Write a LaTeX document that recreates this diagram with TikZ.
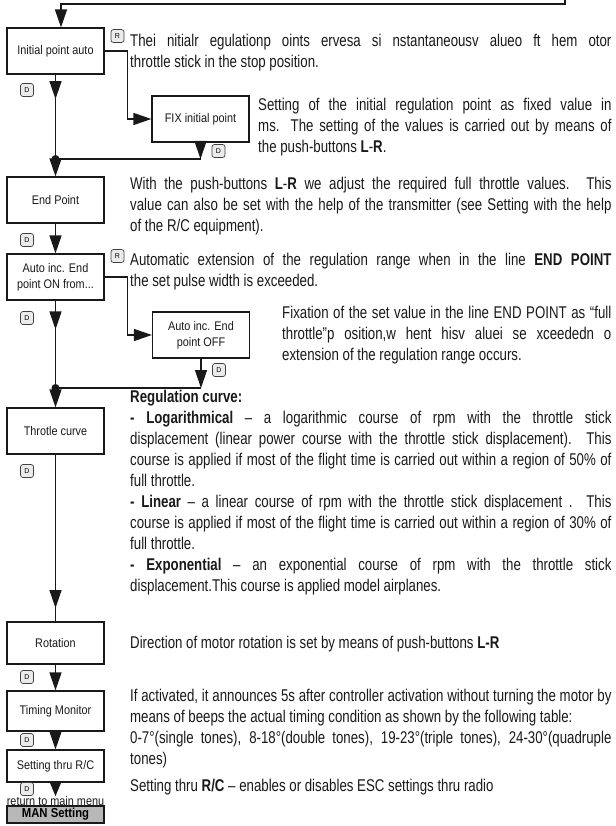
\documentclass[tikz,border=0pt]{standalone}
\usepackage{graphicx}
\usepackage{fontspec}
\setmainfont{Liberation Sans}
\usetikzlibrary{arrows.meta,decorations.markings}
\newcommand\cj[2]{\scalebox{0.78}[1]{\makebox[#1][s]{#2}}}
\newcommand\cn[1]{\scalebox{0.78}[1]{#1}}
\newcommand\cb[1]{\scalebox{0.87}[1]{#1}}
\begin{document}
\begin{tikzpicture}[x=1pt,y=-1pt,
  >={Triangle[length=18pt,width=12pt]},
  box/.style={draw=black!90, line width=1.2pt, minimum width=97pt, minimum height=46pt, align=center, inner sep=1pt, text=black!90, font=\fontsize{12.5}{16}\selectfont},
  btn/.style={draw=black!75, fill=black!8, rounded corners=2.5pt, minimum width=13pt, minimum height=13pt, inner sep=0pt, line width=0.7pt, font=\fontsize{7}{7}\selectfont},
  conn/.style={line width=1.3pt, black!90},
  midarr/.style={postaction={decorate}, decoration={markings, mark=at position #1 with {\arrow{>}}}},
  txt/.style={anchor=base west, inner sep=0pt, text=black!90, font=\fontsize{17}{21}\selectfont},
  jdot/.style={circle, fill=black!90, inner sep=0pt, minimum size=8pt},
]
\useasboundingbox (0,0) rectangle (615,826);

% boxes
\node[box] (b1) at (55.5,51) {\cb{Initial point auto}};
\node[box] (b2) at (200.5,119) {\cb{FIX initial point}};
\node[jdot] (j1) at (55.5,159) {};
\node[box] (b3) at (55.5,200) {\cb{End Point}};
\node[box] (b4) at (55.5,277) {\cb{Auto inc. End}\\\cb{point ON from...}};
\node[box] (b5) at (201,335) {\cb{Auto inc. End}\\\cb{point OFF}};
\node[jdot] (j2) at (55.5,388) {};
\node[box] (b6) at (55.5,431) {\cb{Throtle curve}};
\node[box, minimum height=42pt] (b7) at (55.5,643) {\cb{Rotation}};
\node[box, minimum height=40pt] (b8) at (55.5,711) {\cb{Timing Monitor}};
\node[box, minimum height=32pt] (b9) at (55.5,766) {\cb{Setting thru R/C}};
\node[inner sep=0pt, text=black!90, font=\fontsize{12.5}{13}\selectfont] (ret) at (55.5,801) {\cb{return to main menu}};
\node[draw=black!90, line width=1.2pt, fill=black!28, minimum width=97pt, minimum height=17pt, inner sep=0pt, font=\bfseries\fontsize{13}{13}\selectfont] (man) at (55.5,814.5) {\cb{MAN Setting}};

% buttons
\node[btn] (r1) at (117.5,36) {R};
\node[btn] (d1) at (27,90) {D};
\node[btn] (d2) at (218.5,151) {D};
\node[btn] (d3) at (27,240) {D};
\node[btn] (r2) at (117.5,256) {R};
\node[btn] (d4) at (27,318) {D};
\node[btn] (d5) at (219,370) {D};
\node[btn] (d6) at (27,471) {D};
\node[btn] (d7) at (27,677) {D};
\node[btn] (d8) at (27,740) {D};
\node[btn] (d9) at (27,789) {D};

% connectors
\coordinate (t0) at (565,0);
\coordinate (t1) at (565,4);
\coordinate (t2) at (61,4);
\draw[conn,->] (t0) -- (t1) -- (t2) -- (t2 |- b1.north);
\draw[conn,->] (b1.east) -- ++(23,0) |- (b2.west);
\draw[conn,midarr=0.29] (b1.south) -- (j1.center);
\coordinate (c1) at (b2.south |- j1.center);
\draw[conn,->] (b2.south) -- (c1);
\draw[conn] (c1) -- (j1.center);
\draw[conn,->] (j1.center) -- (b3.north);
\draw[conn,->] (b3.south) -- (b4.north);
\draw[conn,->] (b4.east) -- ++(23,0) |- (b5.west);
\draw[conn,midarr=0.33] (b4.south) -- (j2.center);
\coordinate (c2) at (b5.south |- j2.center);
\draw[conn,->] (b5.south) -- (c2);
\draw[conn] (c2) -- (j2.center);
\draw[conn,->] (j2.center) -- (b6.north);
\draw[conn,midarr=0.92] (b6.south) -- (b7.north);
\draw[conn,->] (b7.south) -- (b8.north);
\draw[conn,->] (b8.south) -- (b9.north);
\draw[conn,-{Triangle[length=15pt,width=12pt]}] (b9.south) -- (ret.north);

% text
\node[txt] (p1) at (130,46.5) {\cj{617pt}{Thei nitialr egulationp oints ervesa si nstantaneousv alueo ft hem otor}};
\node[txt] (p2) at (130,67.5) {\cn{throttle stick in the stop position.}};
\node[txt] (p3) at (258,110.5) {\cj{453pt}{Setting of the initial regulation point as fixed value in}};
\node[txt] (p4) at (258,131.5) {\cj{453pt}{ms. The setting of the values is carried out by means of}};
\node[txt] (p5) at (258,152.5) {\cn{the push-buttons \textbf{L}-\textbf{R}.}};
\node[txt] (p6) at (130,189.5) {\cj{617pt}{With the push-buttons \textbf{L}-\textbf{R} we adjust the required full throttle values. This}};
\node[txt] (p7) at (130,210.5) {\cj{617pt}{value can also be set with the help of the transmitter (see Setting with the help}};
\node[txt] (p8) at (130,231.5) {\cn{of the R/C equipment).}};
\node[txt] (p9) at (130,265.5) {\cj{617pt}{Automatic extension of the regulation range when in the line \textbf{END POINT}}};
\node[txt] (p10) at (130,286.5) {\cn{the set pulse width is exceeded.}};
\node[txt] (p11) at (282,318.5) {\cj{422pt}{Fixation of the set value in the line END POINT as “full}};
\node[txt] (p12) at (282,339.5) {\cj{422pt}{throttle”p osition,w hent hisv aluei se xceededn o}};
\node[txt] (p13) at (282,360.5) {\cn{extension of the regulation range occurs.}};
\node[txt] (p14) at (130,402) {\cn{\textbf{Regulation curve:}}};
\node[txt] (p15) at (130,423) {\cj{617pt}{\textbf{- Logarithmical} – a logarithmic course of rpm with the throttle stick}};
\node[txt] (p16) at (130,444) {\cj{617pt}{displacement (linear power course with the throttle stick displacement). This}};
\node[txt] (p17) at (130,465) {\cj{617pt}{course is applied if most of the flight time is carried out within a region of 50\% of}};
\node[txt] (p18) at (130,486) {\cn{full throttle.}};
\node[txt] (p19) at (130,507) {\cj{617pt}{\textbf{- Linear} – a linear course of rpm with the throttle stick displacement . This}};
\node[txt] (p20) at (130,528) {\cj{617pt}{course is applied if most of the flight time is carried out within a region of 30\% of}};
\node[txt] (p21) at (130,549) {\cn{full throttle.}};
\node[txt] (p22) at (130,570) {\cj{617pt}{\textbf{- Exponential} – an exponential course of rpm with the throttle stick}};
\node[txt] (p23) at (130,591) {\cn{displacement.This course is applied model airplanes.}};
\node[txt] (p24) at (130,648.5) {\cn{Direction of motor rotation is set by means of push-buttons \textbf{L-R}}};
\node[txt] (p25) at (130,701.5) {\cj{617pt}{If activated, it announces 5s after controller activation without turning the motor by}};
\node[txt] (p26) at (130,722.5) {\cn{means of beeps the actual timing condition as shown by the following table:}};
\node[txt] (p27) at (130,743.5) {\cj{617pt}{0-7°(single tones), 8-18°(double tones), 19-23°(triple tones), 24-30°(quadruple}};
\node[txt] (p28) at (130,764.5) {\cn{tones)}};
\node[txt] (p29) at (130,791) {\cn{Setting thru \textbf{R/C} – enables or disables ESC settings thru radio}};
\end{tikzpicture}
\end{document}
